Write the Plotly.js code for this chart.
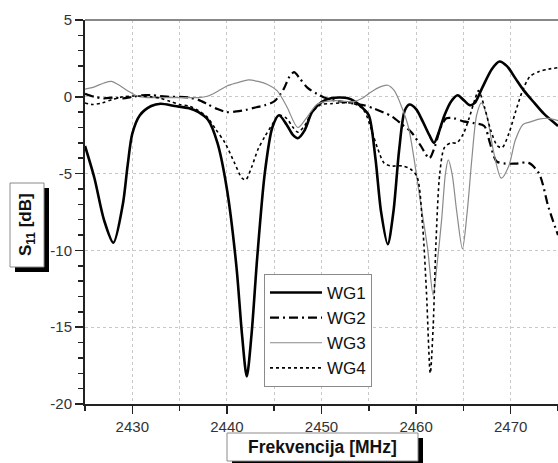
<!DOCTYPE html>
<html>
<head>
<meta charset="utf-8">
<script src="https://cdn.plot.ly/plotly-3.0.1.min.js"></script>
<style>html,body{margin:0;padding:0;background:#fff;}#chart{width:558px;height:463px;}</style>
</head>
<body>
<div id="chart"></div>
<script>
// ---- data ----
const seriesNames = ["WG1", "WG2", "WG3", "WG4"];
const xTicks = [2430, 2440, 2450, 2460, 2470];
const yTicks = [5, 0, -5, -10, -15, -20];

const wg1X = [2425, 2426, 2427, 2428, 2429, 2429.5, 2430, 2430.8, 2432, 2433, 2434.5, 2436, 2437, 2438, 2439, 2440, 2441, 2441.6, 2442.1, 2442.6, 2443.2, 2444, 2444.8, 2445.5, 2446.3, 2447, 2447.5, 2448.2, 2449, 2450, 2451, 2452, 2452.8, 2453.5, 2454.3, 2455, 2455.7, 2456.3, 2457, 2457.6, 2458.2, 2458.8, 2459.3, 2460, 2460.7, 2461.4, 2461.9, 2462.4, 2463, 2463.7, 2464.4, 2465, 2465.7, 2466.2, 2467, 2468, 2468.8, 2469.6, 2470.5, 2471.4, 2472.5, 2473.5, 2475];
const wg1Y = [-3.2, -5.3, -8.0, -9.5, -7.0, -4.5, -2.4, -1.2, -0.6, -0.45, -0.6, -0.75, -1.0, -1.5, -3.0, -6.0, -11.0, -15.5, -18.2, -15.5, -10.5, -5.0, -2.0, -1.2, -1.8, -2.5, -2.7, -2.2, -1.0, -0.35, -0.1, -0.05, -0.1, -0.3, -0.7, -1.2, -4.0, -7.5, -9.6, -7.5, -3.5, -0.9, -0.5, -0.8, -1.6, -2.5, -3.0, -2.3, -1.2, -0.3, 0.1, -0.2, -0.55, -0.4, 0.6, 1.8, 2.3, 2.0, 1.2, 0.4, -0.4, -1.1, -1.9];

const wg2X = [2425, 2426, 2427, 2428, 2429, 2430, 2431, 2432, 2433, 2434, 2435, 2436, 2437, 2438, 2439, 2440, 2441, 2442, 2443, 2444, 2445, 2446, 2446.6, 2447.1, 2447.7, 2448.5, 2449.5, 2450.5, 2451.5, 2452.5, 2453.5, 2454.5, 2455.5, 2456.5, 2457.5, 2458.5, 2459.5, 2460.5, 2461.4, 2462, 2462.6, 2463.2, 2464, 2465, 2466, 2467.2, 2467.8, 2468.5, 2469.5, 2470.5, 2471.9, 2473, 2474, 2475];
const wg2Y = [0.2, 0.0, -0.1, -0.05, -0.1, 0.0, 0.1, 0.1, 0.05, 0.0, 0.0, -0.05, -0.2, -0.5, -0.8, -1.0, -0.95, -0.85, -0.7, -0.55, -0.3, 0.5, 1.3, 1.6, 1.2, 0.6, 0.2, -0.1, -0.25, -0.35, -0.45, -0.55, -0.75, -1.0, -1.3, -1.8, -2.3, -3.2, -4.0, -3.2, -2.0, -1.4, -1.4, -1.6, -1.7, -1.9, -3.0, -4.2, -4.35, -4.35, -4.3, -5.0, -7.2, -9.0];

const wg3X = [2425, 2426, 2427, 2427.8, 2428.5, 2429.5, 2430.5, 2431.5, 2433, 2434.5, 2436, 2437, 2438, 2439, 2440, 2441, 2442.3, 2443.3, 2444.3, 2445.3, 2446.3, 2447.5, 2448.5, 2449.5, 2450.5, 2451.5, 2452.5, 2453.5, 2454.3, 2455.2, 2456.2, 2457, 2457.7, 2458.5, 2459.2, 2459.8, 2460.5, 2461.2, 2461.8, 2462.2, 2462.7, 2463.1, 2463.4, 2463.8, 2464.3, 2464.9, 2465.4, 2465.9, 2466.4, 2466.9, 2467.5, 2468.2, 2469, 2469.8, 2470.5, 2471.3, 2472, 2473, 2474, 2475];
const wg3Y = [0.5, 0.65, 0.9, 1.0, 0.8, 0.4, 0.05, -0.05, -0.05, -0.05, -0.05, -0.05, 0.05, 0.35, 0.7, 0.9, 1.1, 1.0, 0.8, 0.4, -0.6, -2.0, -1.3, -0.5, -0.3, -0.25, -0.3, -0.3, -0.1, 0.3, 0.65, 0.75, 0.4, -0.7, -2.0, -4.1, -7.0, -9.8, -12.9, -11.0, -8.0, -5.0, -4.1, -5.0, -7.5, -9.9, -7.5, -4.0, -1.2, -0.4, -1.3, -3.6, -5.3, -4.5, -2.8, -1.8, -1.65, -1.45, -1.4, -1.55];

const wg4X = [2425, 2425.8, 2426.8, 2428, 2429, 2430, 2431, 2432, 2433, 2434, 2435, 2436, 2437, 2437.9, 2438.8, 2439.8, 2440.8, 2441.6, 2442, 2442.6, 2443.3, 2444, 2444.8, 2445.5, 2446.3, 2447, 2447.5, 2448.2, 2449, 2450, 2451, 2452, 2453, 2454, 2454.6, 2455.2, 2455.9, 2456.6, 2457.3, 2458.5, 2459.4, 2460.1, 2460.7, 2461.1, 2461.5, 2461.8, 2462.1, 2462.5, 2463, 2463.7, 2464.3, 2465, 2465.6, 2466.2, 2466.6, 2467.2, 2467.9, 2468.6, 2469.1, 2469.8, 2470.5, 2471.2, 2472, 2473, 2474, 2475];
const wg4Y = [-0.4, -0.5, -0.4, -0.15, 0.0, 0.05, 0.05, 0.0, -0.1, -0.3, -0.5, -0.6, -0.9, -1.3, -2.1, -3.0, -4.3, -5.3, -5.4, -4.6, -3.4, -2.6, -1.8, -1.2, -1.4, -2.0, -2.3, -1.9, -1.0, -0.5, -0.45, -0.4, -0.4, -0.6, -1.0, -2.0, -3.3, -4.3, -4.5, -4.5, -4.7, -5.2, -8.5, -12.8, -18.0, -15.0, -9.5, -5.0, -3.3, -3.0, -3.0, -2.4, -1.4, -0.2, 0.4, -0.6, -2.2, -3.2, -3.3, -2.4, -1.0, 0.3, 1.3, 1.65, 1.8, 1.9];

// ---- layout helpers (pixel -> paper) ----
const L = 85, T = 20, W = 558, H = 463, PW = 473, PH = 384;
const px = v => (v - L) / PW;
const py = v => (T + PH - v) / PH;
const FONT = "Liberation Sans, Arial, sans-serif";

const traces = [
  {x: wg1X, y: wg1Y, name: seriesNames[0], mode: "lines",
   line: {color: "#000", width: 2.6, shape: "spline", smoothing: 0.8}},
  {x: wg2X, y: wg2Y, name: seriesNames[1], mode: "lines",
   line: {color: "#000", width: 2.2, dash: "9px,4px,2px,4px", shape: "spline", smoothing: 0.8}},
  {x: wg3X, y: wg3Y, name: seriesNames[2], mode: "lines",
   line: {color: "#8a8a8a", width: 1.2, shape: "spline", smoothing: 0.8}},
  {x: wg4X, y: wg4Y, name: seriesNames[3], mode: "lines",
   line: {color: "#000", width: 1.6, dash: "dot", shape: "spline", smoothing: 0.8}}
];

const gridStyle = {showgrid: true, gridcolor: "#c8c8c8", griddash: "dot", gridwidth: 1};

const layout = {
  width: W, height: H,
  margin: {l: L, r: W - L - PW, t: T, b: H - T - PH, pad: 0},
  paper_bgcolor: "#fff", plot_bgcolor: "#fff",
  font: {family: FONT, color: "#333"},
  showlegend: true,
  legend: {x: px(264), y: py(274), xanchor: "left", yanchor: "top",
           bgcolor: "#fff", bordercolor: "#8a8a8a", borderwidth: 1,
           font: {family: FONT, size: 17, color: "#111"}, itemwidth: 52,
           tracegroupgap: 0},
  xaxis: Object.assign({
    range: [2425, 2475], tickvals: xTicks, ticktext: xTicks.map(String),
    ticks: "outside", ticklen: 8, tickwidth: 1.5, tickcolor: "#222",
    showline: true, linecolor: "#222", linewidth: 2, zeroline: false,
    tickfont: {family: FONT, size: 15, color: "#333"},
    minor: {tick0: 2425, dtick: 5, ticks: "outside", ticklen: 5, tickwidth: 1.5, tickcolor: "#222",
            showgrid: true, gridcolor: "#c8c8c8", griddash: "dot", gridwidth: 1}
  }, gridStyle),
  yaxis: Object.assign({
    range: [-20, 5], tickvals: yTicks, ticktext: yTicks.map(String),
    ticks: "outside", ticklen: 8, tickwidth: 1.5, tickcolor: "#222",
    showline: true, linecolor: "#222", linewidth: 2, zeroline: false,
    tickfont: {family: FONT, size: 15, color: "#333"},
    minor: {dtick: 1, ticks: "outside", ticklen: 5, tickwidth: 1.5, tickcolor: "#222", showgrid: false}
  }, gridStyle),
  shapes: [
    // top frame line
    {type: "line", xref: "paper", yref: "paper", x0: 0, x1: 1, y0: 1, y1: 1,
     line: {color: "#888", width: 2}},
    // y title shadow + box
    {type: "rect", xref: "paper", yref: "paper", x0: px(15), x1: px(49), y0: py(272), y1: py(188),
     fillcolor: "#000", line: {width: 0}},
    {type: "rect", xref: "paper", yref: "paper", x0: px(10), x1: px(44), y0: py(267), y1: py(183),
     fillcolor: "#fff", line: {color: "#8a8a8a", width: 1}},
    // x title shadow + box
    {type: "rect", xref: "paper", yref: "paper", x0: px(232), x1: px(423), y0: py(466), y1: py(438),
     fillcolor: "#000", line: {width: 0}},
    {type: "rect", xref: "paper", yref: "paper", x0: px(227), x1: px(418), y0: py(461), y1: py(433),
     fillcolor: "#fff", line: {color: "#8a8a8a", width: 1}}
  ],
  annotations: [
    {xref: "paper", yref: "paper", x: px(27), y: py(225), showarrow: false, textangle: -90,
     text: "<b>S<sub>11</sub> [dB]</b>", font: {family: FONT, size: 17, color: "#111"},
     xanchor: "center", yanchor: "middle"},
    {xref: "paper", yref: "paper", x: px(322.5), y: py(447), showarrow: false,
     text: "<b>Frekvencija [MHz]</b>", font: {family: FONT, size: 17.5, color: "#111"},
     xanchor: "center", yanchor: "middle"}
  ]
};

Plotly.newPlot("chart", traces, layout, {staticPlot: true, displayModeBar: false});
</script>
</body>
</html>
